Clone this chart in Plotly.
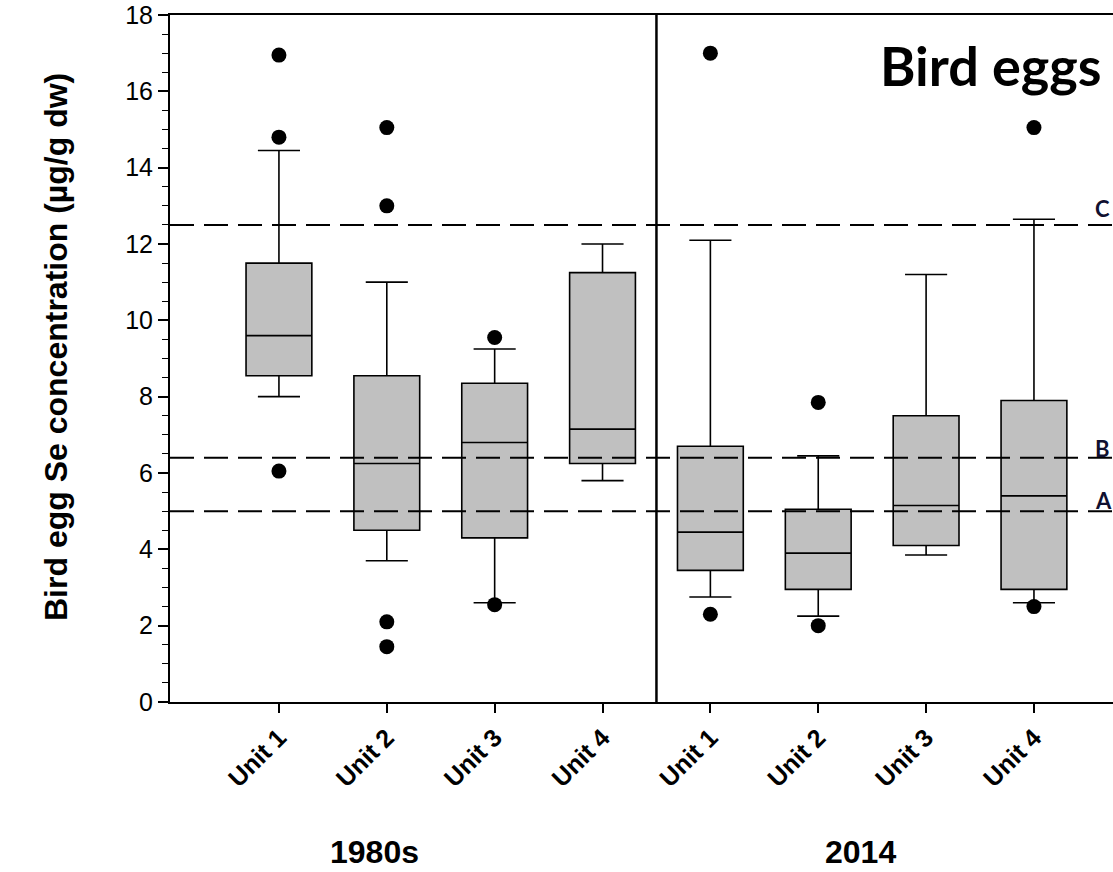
import plotly.graph_objects as go

# ---- data ----
periods = ["1980s", "2014"]
units = ["Unit 1", "Unit 2", "Unit 3", "Unit 4", "Unit 1", "Unit 2", "Unit 3", "Unit 4"]
lower_whisker = [8.0, 3.7, 2.6, 5.8, 2.75, 2.25, 3.85, 2.6]
q1 = [8.55, 4.5, 4.3, 6.25, 3.45, 2.95, 4.1, 2.95]
median = [9.6, 6.25, 6.8, 7.15, 4.45, 3.9, 5.15, 5.4]
q3 = [11.5, 8.55, 8.35, 11.25, 6.7, 5.05, 7.5, 7.9]
upper_whisker = [14.45, 11.0, 9.25, 12.0, 12.1, 6.45, 11.2, 12.65]
outliers = [
    [16.95, 14.8, 6.05],
    [15.05, 13.0, 2.1, 1.45],
    [9.55, 2.55],
    [],
    [17.0, 2.3],
    [7.85, 2.0],
    [],
    [15.05, 2.5],
]
thresholds = [12.5, 6.4, 5.0]
threshold_labels = ["C", "B", "A"]
yticks = [0, 2, 4, 6, 8, 10, 12, 14, 16, 18]

# ---- geometry (window pixels) ----
W, H = 1113, 872
PLOT_L, PLOT_T, PLOT_B = 170, 15, 702
plot_w = W - PLOT_L
plot_h = PLOT_B - PLOT_T

def px2paper_x(px):
    return (px - PLOT_L) / plot_w

def px2paper_y(py):
    return (PLOT_B - py) / plot_h

fig = go.Figure()
positions = list(range(1, len(units) + 1))
for i, p in enumerate(positions):
    fig.add_trace(go.Box(
        x=[p], q1=[q1[i]], median=[median[i]], q3=[q3[i]],
        lowerfence=[lower_whisker[i]], upperfence=[upper_whisker[i]],
        width=0.61, whiskerwidth=0.64, boxpoints=False,
        fillcolor="#c0c0c0", line=dict(color="black", width=1.6),
        showlegend=False, hoverinfo="skip"))
    if outliers[i]:
        fig.add_trace(go.Scatter(
            x=[p] * len(outliers[i]), y=outliers[i], mode="markers",
            marker=dict(color="black", size=15), showlegend=False, hoverinfo="skip"))

for v in thresholds:
    fig.add_shape(type="line", xref="paper", yref="y", x0=0, x1=1, y0=v, y1=v,
                  line=dict(color="black", width=2, dash="24px,10px"))
fig.add_shape(type="line", xref="x", yref="paper", x0=4.5, x1=4.5, y0=0, y1=1,
              line=dict(color="black", width=2.5))

xr0 = -0.01
xr1 = xr0 + plot_w / 107.86

bold = dict(family="Liberation Sans", color="black", weight="bold")
ann = []
ann.append(dict(text="Bird egg Se concentration (µg/g dw)", x=px2paper_x(56), y=px2paper_y(347),
                xref="paper", yref="paper", xanchor="center", yanchor="middle",
                textangle=-90, showarrow=False, font=dict(size=32, **bold)))
ann.append(dict(text=periods[0], x=px2paper_x(374), y=px2paper_y(852), xref="paper", yref="paper",
                xanchor="center", yanchor="middle", showarrow=False, font=dict(size=32, **bold)))
ann.append(dict(text=periods[1], x=px2paper_x(860), y=px2paper_y(852), xref="paper", yref="paper",
                xanchor="center", yanchor="middle", showarrow=False, font=dict(size=32, **bold)))
ann.append(dict(text="Bird eggs", x=px2paper_x(878), y=px2paper_y(66), xref="paper", yref="paper",
                xanchor="left", yanchor="middle", showarrow=False,
                font=dict(family="Lato", size=54, color="black", weight="bold")))
label_shift = [1, -6, -5]
for v, lab, s in zip(thresholds, threshold_labels, label_shift):
    ann.append(dict(text=lab, x=px2paper_x(1093), y=v, xref="paper", yref="y", xanchor="left",
                    yanchor="bottom", yshift=s, showarrow=False,
                    font=dict(family="Lato", size=22, color="#101030", weight="bold")))

fig.update_layout(
    width=W, height=H,
    margin=dict(l=PLOT_L, r=0, t=PLOT_T, b=H - PLOT_B, pad=0, autoexpand=False),
    plot_bgcolor="white", paper_bgcolor="white",
    annotations=ann,
    xaxis=dict(range=[xr0, xr1], tickvals=positions, ticktext=units, tickangle=-45,
               showline=True, linecolor="black", linewidth=2, mirror=True,
               ticks="outside", ticklen=9, tickwidth=2, tickcolor="black",
               showgrid=False, zeroline=False, automargin=False,
               tickfont=dict(size=25, **bold)),
    yaxis=dict(range=[0, 18], tickvals=yticks, showline=True, linecolor="black", linewidth=2,
               ticks="outside", ticklen=10, tickwidth=1.5, tickcolor="black",
               minor=dict(dtick=0.5, ticks="outside", ticklen=6, tickwidth=1.2, tickcolor="black"),
               showgrid=False, zeroline=False, automargin=False, ticklabeloverflow="allow",
               tickfont=dict(family="Liberation Sans", size=25, color="black")),
)

fig.write_html("out.html", config={"displayModeBar": False},
               post_script="document.body.style.margin='0';document.body.style.overflow='hidden';")
